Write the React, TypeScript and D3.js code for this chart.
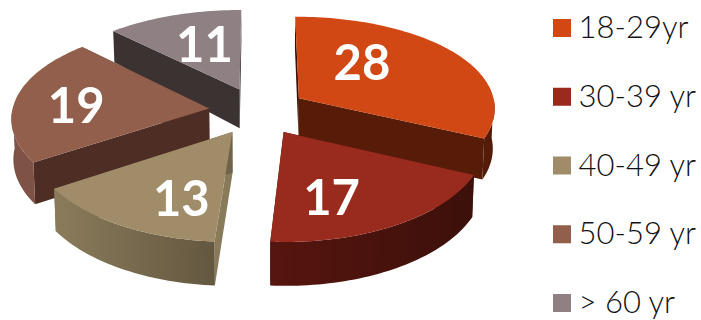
import React from "react";
import * as d3 from "d3";

const categories = ["18-29yr", "30-39 yr", "40-49 yr", "50-59 yr", "> 60 yr"];
const values = [28, 17, 13, 19, 11];
const topColors = ["#d14815", "#992a1e", "#a08c68", "#925f4d", "#8f8083"];
const startCutColors = ["#3d1205", "#4a130c", "#897b5a", "#4e2d25", "#3b3232"];
const endCutColors = ["#561c08", "#4a130c", "#6f6349", "#4e2d25", "#3b3232"];
const rimLeftColors = ["#561c08", "#57150f", "#8a7c5b", "#7e5346", "#3b3232"];
const rimRightColors = ["#521b08", "#3c100a", "#645740", "#7e5346", "#3b3232"];
// Pixel nudges of each value label from its slice's tip.
const labelNudges: [number, number][] = [[63, -37], [48, 64], [-51, 65], [-133, -4], [-35, -47]];
// Back-to-front order in which the slices are painted.
const paintOrder = [4, 0, 3, 2, 1];

const CX = 258;
const CY = 111;
const RADIUS_X = 197;
const EXPLODE = 0.25;
const TILT = 0.09;
const SQUASH = 0.992;
// The rim stops at the pie's silhouette on either side.
const RIM_START = (90 * Math.PI) / 180;
const RIM_END = (270 * Math.PI) / 180;

const arcs = d3.pie<number>().sort(null).value((d) => d)(values);
const wallDepth = d3.scaleLinear().domain([30, 100, 245]).range([31, 40, 44]).clamp(true);
const legendY = d3.scalePoint<string>().domain(categories).range([28, 303]);
const toPath = d3.line<[number, number]>().x((p) => p[0]).y((p) => p[1]);

type Pt = [number, number];

// Ground-plane coordinates to the tilted view, with the far side drawn smaller.
function toScreen(u: number, v: number): Pt {
  const s = 1 + TILT * v;
  return [CX + RADIUS_X * u * s, CY + v * 95 + v * v * 10.5];
}

function slicePoint(angle: number, radius: number, mid: number): Pt {
  const u = Math.sin(angle) * radius + EXPLODE * Math.sin(mid);
  const v = -Math.cos(angle) * radius - EXPLODE * Math.cos(mid);
  return toScreen(u, v);
}

function lowered(p: Pt): Pt {
  return [CX + (p[0] - CX) * SQUASH, p[1] + wallDepth(p[1])];
}

function arcPoints(a0: number, a1: number, mid: number): Pt[] {
  const n = Math.max(2, Math.ceil((a1 - a0) * 40));
  return d3.range(n + 1).map((i) => slicePoint(a0 + ((a1 - a0) * i) / n, 1, mid));
}

function Slice({ index }: { index: number }) {
  const { startAngle: a0, endAngle: a1 } = arcs[index];
  const mid = (a0 + a1) / 2;
  const tip = slicePoint(0, 0, mid);
  const outer = arcPoints(a0, a1, mid);
  const cut = (angle: number): Pt[] => {
    const edge = slicePoint(angle, 1, mid);
    return [tip, edge, lowered(edge), lowered(tip)];
  };
  const r0 = Math.max(a0, RIM_START);
  const r1 = Math.min(a1, RIM_END);
  const rimTop = r1 > r0 ? arcPoints(r0, r1, mid) : [];
  const rim = rimTop.length ? [...rimTop, ...rimTop.map(lowered).reverse()] : [];
  const nudge = labelNudges[index];
  return (
    <g>
      <path d={toPath(cut(a0)) + "Z"} fill={startCutColors[index]} />
      <path d={toPath(cut(a1)) + "Z"} fill={endCutColors[index]} />
      {rim.length > 0 && <path d={toPath(rim) + "Z"} fill={`url(#rim-${index})`} />}
      <path d={toPath([tip, ...outer]) + "Z"} fill={topColors[index]} />
      <text
        x={tip[0] + nudge[0]}
        y={tip[1] + nudge[1]}
        textAnchor="middle"
        dominantBaseline="central"
        fill="#fff"
        fontFamily="Lato"
        fontWeight={700}
        fontSize={49}
      >
        {values[index]}
      </text>
    </g>
  );
}

export default function App() {
  return (
    <svg width={701} height={320} style={{ position: "absolute", left: 0, top: 0, background: "#fff" }}>
      <defs>
        {categories.map((c, i) => (
          <linearGradient key={c} id={`rim-${i}`} x1="0" x2="1" y1="0" y2="0">
            <stop offset="0" stopColor={rimLeftColors[i]} />
            <stop offset="1" stopColor={rimRightColors[i]} />
          </linearGradient>
        ))}
      </defs>
      {paintOrder.map((i) => (
        <Slice key={i} index={i} />
      ))}
      {categories.map((c, i) => (
        <g key={c} transform={`translate(553,${legendY(c)})`}>
          <rect y={-9} width={18} height={18} fill={topColors[i]} />
          <text x={25.5} y={-2} dominantBaseline="central" fontFamily="Lato" fontWeight={300} fontSize={31} fill="#111">
            {c}
          </text>
        </g>
      ))}
    </svg>
  );
}
